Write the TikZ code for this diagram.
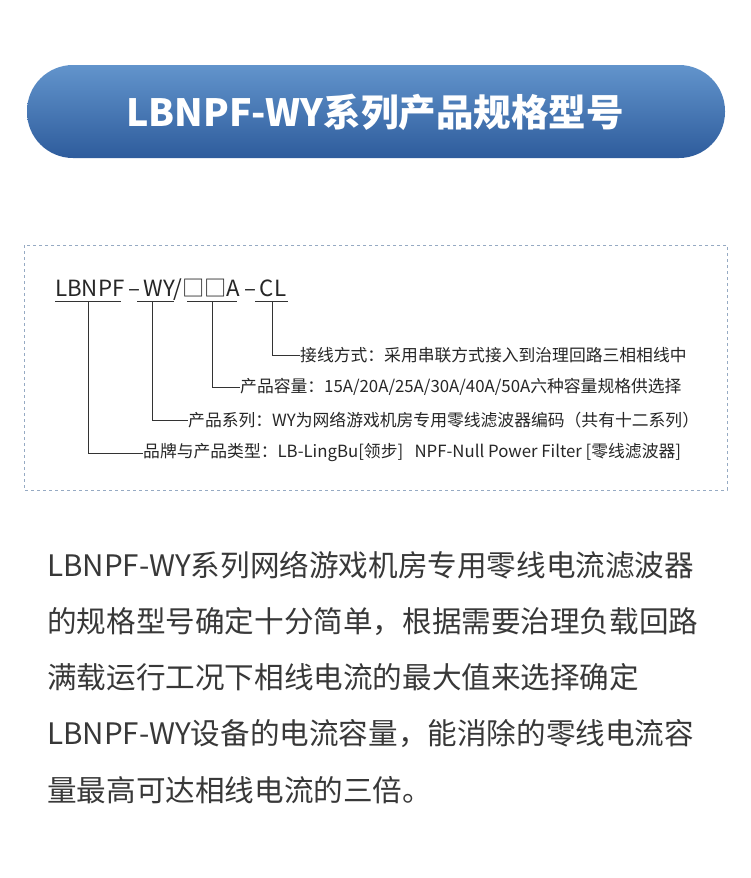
\documentclass[tikz,border=0pt]{standalone}
\usepackage{fontspec}
\setmainfont{Noto Sans CJK SC}
\begin{document}
\begin{tikzpicture}[x=1pt,y=-1pt,
  lbl/.style={anchor=west,inner sep=0pt,font=\fontsize{16.8}{18}\selectfont,text=black!85},
  body/.style={anchor=west,inner sep=0pt,font=\fontsize{29.6}{32}\selectfont,text=black!78},
  ln/.style={line width=0.8pt,black!80}]
\useasboundingbox (0,0) rectangle (750,878);
\fill[white] (0,0) rectangle (750,878);
\shade[top color={rgb,255:red,98;green,148;blue,204},bottom color={rgb,255:red,46;green,92;blue,156},rounded corners=46pt] (27,65) rectangle (725,158);
\node[text=white,font=\bfseries\fontsize{37.5}{40}\selectfont] (title) at (375,112) {LBNPF-WY系列产品规格型号};
\draw[dashed,color={rgb,255:red,150;green,170;blue,195},line width=0.7pt] (24,245) rectangle (727,490);
\node[anchor=base west,inner sep=0pt,font=\fontsize{22.3}{24}\selectfont,text=black!85] (code) at (55,296) {LBNPF\,–\,WY/□□A\,–\,CL};
\draw[ln] (55,301) -- (121,301) (137,301) -- (174,301) (187,301) -- (237,301) (255,301) -- (288,301);
\node[lbl] (l1) at (300,355) {接线方式：采用串联方式接入到治理回路三相相线中};
\node[lbl] (l2) at (240,387) {产品容量：15A/20A/25A/30A/40A/50A六种容量规格供选择};
\node[lbl] (l3) at (188,420) {产品系列：WY为网络游戏机房专用零线滤波器编码（共有十二系列）};
\node[lbl] (l4) at (143,453) {品牌与产品类型：LB-LingBu[领步]\ \ \ NPF-Null Power Filter [零线滤波器]};
\draw[ln] (272,301) |- (l1.west);
\draw[ln] (212,301) |- (l2.west);
\draw[ln] (152,301) |- (l3.west);
\draw[ln] (88,301) |- (l4.west);
\node[body] (b1) at (47,565) {LBNPF-WY系列网络游戏机房专用零线电流滤波器};
\node[body] (b2) at (47,622) {的规格型号确定十分简单，根据需要治理负载回路};
\node[body] (b3) at (47,677) {满载运行工况下相线电流的最大值来选择确定};
\node[body] (b4) at (47,734) {LBNPF-WY设备的电流容量，能消除的零线电流容};
\node[body] (b5) at (47,790) {量最高可达相线电流的三倍。};
\end{tikzpicture}
\end{document}
